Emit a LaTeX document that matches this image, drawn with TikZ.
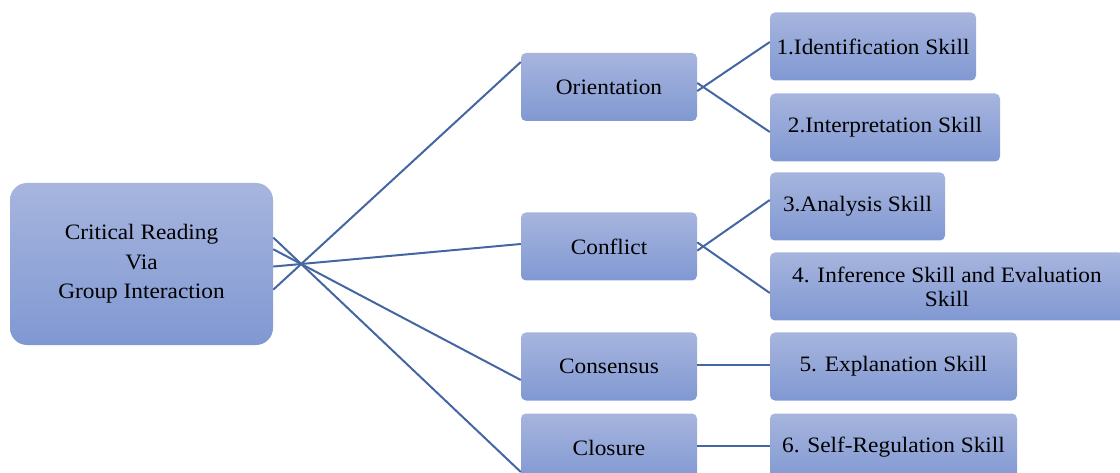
\documentclass[tikz,border=0pt]{standalone}
\usepackage{fontspec}
\setmainfont{Liberation Serif}[FakeStretch=1.06]
\usetikzlibrary{calc}

\definecolor{boxtop}{RGB}{167,181,222}
\definecolor{boxbot}{RGB}{128,152,210}
\definecolor{linkblue}{RGB}{68,102,162}

\tikzset{
  box/.style={rectangle, rounded corners=5pt, top color=boxtop, bottom color=boxbot,
    align=center, inner sep=2pt, minimum height=68pt, font=\fontsize{22}{29.5}\selectfont},
  link/.style={linkblue, line width=2pt},
}

\begin{document}
\begin{tikzpicture}[x=1pt, y=-1pt]
    \clip (0,0) rectangle (1120,473);

    \node[box, rounded corners=17pt, minimum width=263pt, minimum height=162pt] (root) at (141.5,264) {Critical Reading\\Via\\Group Interaction};

    \node[box, minimum width=176pt] (orient) at (609,87) {Orientation};
    \node[box, minimum width=176pt] (confl) at (609,246.5) {Conflict};
    \node[box, minimum width=176pt] (cons) at (609,366.5) {Consensus};
    \node[box, minimum width=176pt] (clos) at (609,447.5) {Closure};

    \node[box, minimum width=206pt] (s1) at (873,46.5) {1.Identification Skill};
    \node[box, minimum width=230pt] (s2) at (885,127.5) {2.Interpretation Skill};
    \node[box, minimum width=175pt] (s3) at (857.5,206.5) {3.Analysis Skill};
    \node[box, minimum width=354pt, font=\fontsize{22}{24}\selectfont] (s4) at (947,286.5) {4. Inference Skill and Evaluation\\Skill};
    \node[box, minimum width=247pt] (s5) at (893.5,366.5) {5. Explanation Skill};
    \node[box, minimum width=247pt] (s6) at (893.5,447.5) {6. Self-Regulation Skill};

    % crossing points of the fans
    \coordinate (hub) at ([xshift=28pt]root.east);
    \coordinate (hubA) at ([xshift=6pt]orient.east);
    \coordinate (hubB) at ([xshift=6pt]confl.east);

    \foreach \t/\dy in {orient/25, confl/2.5, cons/-13.5, clos/-24.5}
      \draw[link] ($([yshift=\dy pt]\t.west)!1.1273!(hub)$) -- ([yshift=\dy pt]\t.west);

    \foreach \t/\dy in {s1/4.5, s2/-4.5}
      \draw[link] ($([yshift=\dy pt]\t.west)!1.0896!(hubA)$) -- ([yshift=\dy pt]\t.west);
    \foreach \t/\dy in {s3/6.5, s4/-6.5}
      \draw[link] ($([yshift=\dy pt]\t.west)!1.0896!(hubB)$) -- ([yshift=\dy pt]\t.west);

    \draw[link] ([yshift=1.5pt]cons.east) -- ([yshift=1.5pt]s5.west);
    \draw[link] ([yshift=1.5pt]clos.east) -- ([yshift=1.5pt]s6.west);
\end{tikzpicture}
\end{document}
